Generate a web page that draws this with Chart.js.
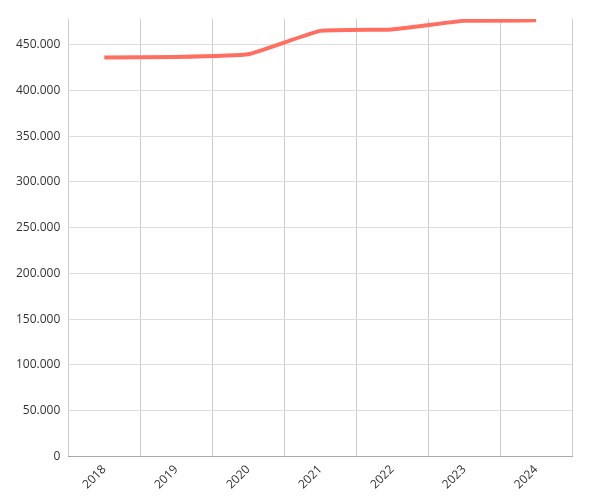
<!DOCTYPE html>
<html><head><meta charset="utf-8">
<script src="https://cdn.jsdelivr.net/npm/chart.js@4"></script>
<style>html,body{margin:0;padding:0;background:#fff}#w{width:591px;height:500px}</style>
</head><body><div id="w"><canvas id="c"></canvas></div>
<script>
const categories = ['2018','2019','2020','2021','2022','2023','2024'];
const values = [436000, 436500, 439500, 465000, 466500, 476000, 476500];
const yTicks = [0, 50000, 100000, 150000, 200000, 250000, 300000, 350000, 400000, 450000];
const fmt = v => String(v).replace(/\B(?=(\d{3})+(?!\d))/g, '.');
Chart.defaults.font.family = 'Open Sans';
Chart.defaults.font.size = 12;
Chart.defaults.color = '#333';
new Chart(document.getElementById('c'), {
  type: 'line',
  data: { labels: categories, datasets: [{ data: values, borderColor: '#ff6f61', borderWidth: 4, pointRadius: 0, tension: 0.1, fill: false }] },
  options: {
    responsive: true, maintainAspectRatio: false, animation: false,
    layout: { padding: { top: 19, right: 19, left: 8, bottom: 2 } },
    plugins: { legend: { display: false }, tooltip: { enabled: false } },
    scales: {
      x: { offset: true, grid: { offset: true, drawTicks: false, color: '#ccc' }, border: { color: '#aaa' },
           ticks: { maxRotation: 45, minRotation: 45, padding: 6 } },
      y: { min: 0, max: 478000, grid: { drawTicks: false, color: '#ddd' }, border: { display: false },
           afterBuildTicks: s => { s.ticks = yTicks.map(v => ({ value: v })); },
           ticks: { padding: 8, autoSkip: false, callback: v => fmt(v) } }
    }
  }
});
</script></body></html>
